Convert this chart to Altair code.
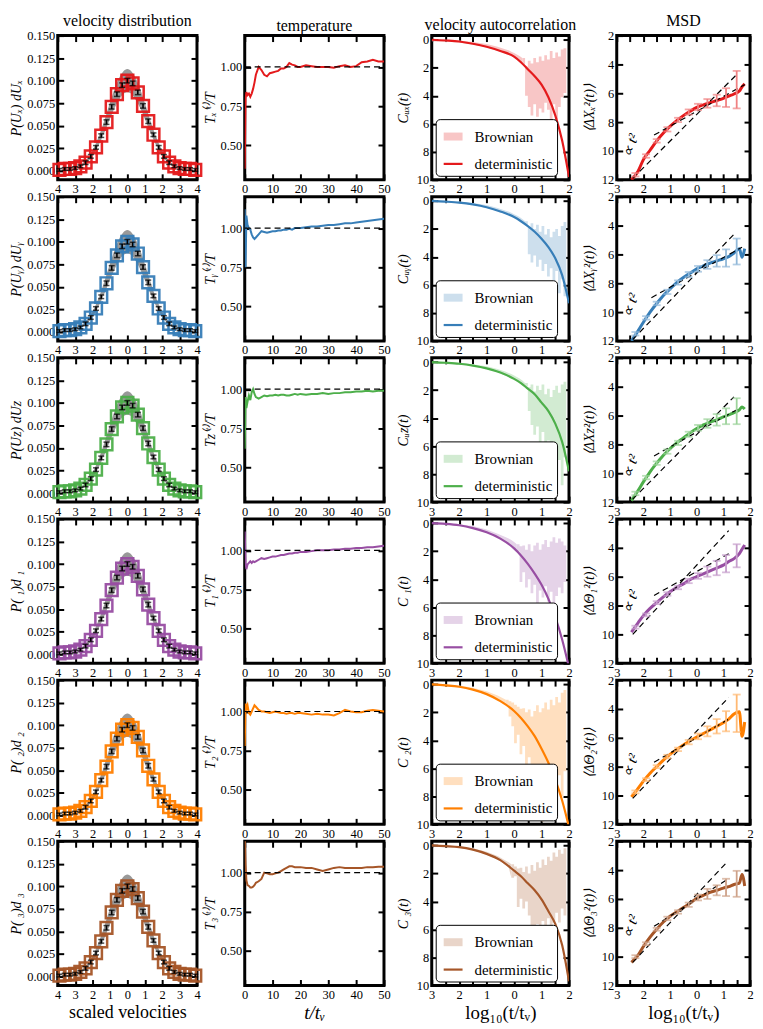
import altair as alt
import pandas as pd

SERIF = "Liberation Serif"
COLORS = ["#e41a1c", "#377eb8", "#4daf4a", "#984ea3", "#ff7f00", "#a65628"]
EM = "\u2003"

# ---------------- column 1 : velocity distribution ----------------
vd_x = [-3.9, -3.6, -3.3, -3.0, -2.7, -2.4, -2.1, -1.8, -1.5, -1.2, -0.9, -0.6, -0.3, 0.0,
        0.3, 0.6, 0.9, 1.2, 1.5, 1.8, 2.1, 2.4, 2.7, 3.0, 3.3, 3.6, 3.9]
vd_p = [0.001, 0.002, 0.002, 0.003, 0.005, 0.009, 0.016, 0.026, 0.039, 0.054, 0.071, 0.085, 0.095, 0.100,
        0.097, 0.087, 0.072, 0.055, 0.040, 0.026, 0.016, 0.009, 0.005, 0.003, 0.002, 0.002, 0.001]
vd_err = [0.0015, 0.0015, 0.0015, 0.0015, 0.0015, 0.002, 0.002, 0.002, 0.002, 0.0025, 0.0025, 0.0025, 0.0025, 0.0025,
          0.0025, 0.0025, 0.0025, 0.0025, 0.002, 0.002, 0.002, 0.002, 0.0015, 0.0015, 0.0015, 0.0015, 0.0015]
band_x = [-4, -3.5, -3, -2.5, -2, -1.5, -1, -0.75, -0.5, -0.25, 0, 0.25, 0.5, 0.75, 1, 1.5, 2, 2.5, 3, 3.5, 4]
band_lo = [0.0000, 0.0004, 0.0020, 0.0065, 0.0165, 0.0345, 0.0575, 0.069, 0.078, 0.085, 0.087,
           0.085, 0.078, 0.069, 0.0575, 0.0345, 0.0165, 0.0065, 0.0020, 0.0004, 0.0000]
band_hi = [0.0003, 0.0012, 0.0035, 0.0095, 0.0225, 0.0455, 0.0755, 0.090, 0.102, 0.110, 0.113,
           0.110, 0.102, 0.090, 0.0755, 0.0455, 0.0225, 0.0095, 0.0035, 0.0012, 0.0003]

# ---------------- column 2 : temperature ----------------
t_temp = [0, 0.3, 0.6, 1, 1.5, 2, 2.5, 3, 3.5, 4, 5, 6, 7, 8, 9, 10, 11, 12, 13, 14, 15, 16, 17, 18, 19, 20,
          22, 24, 26, 28, 30, 32, 34, 36, 38, 40, 42, 44, 46, 48, 50]
temp_1 = [0.35, 0.80, 0.84, 0.82, 0.83, 0.81, 0.83, 0.86, 0.90, 0.95, 1.00, 0.98, 0.95, 0.94, 0.96, 0.965, 0.97,
          0.975, 0.99, 0.99, 1.00, 1.025, 1.015, 1.01, 1.00, 1.00, 1.01, 1.005, 1.00, 1.00, 1.00, 0.995, 1.005,
          1.01, 1.00, 1.005, 1.03, 1.035, 1.045, 1.035, 1.035]
temp_2 = [1.12, 0.75, 1.08, 1.02, 1.00, 0.99, 0.96, 0.94, 0.93, 0.94, 0.96, 0.98, 0.975, 0.97, 0.975, 0.98, 0.98,
          0.985, 0.985, 0.99, 0.99, 0.995, 0.99, 1.00, 1.00, 1.00, 1.005, 1.01, 1.01, 1.015, 1.02, 1.02, 1.025,
          1.03, 1.03, 1.035, 1.04, 1.045, 1.05, 1.055, 1.06]
temp_3 = [0.62, 0.95, 0.88, 0.92, 0.96, 0.93, 0.98, 1.00, 0.97, 0.95, 0.94, 0.95, 0.96, 0.955, 0.96, 0.96, 0.965,
          0.96, 0.965, 0.965, 0.96, 0.96, 0.965, 0.97, 0.965, 0.97, 0.965, 0.97, 0.97, 0.975, 0.97, 0.975, 0.975,
          0.98, 0.98, 0.985, 0.985, 0.99, 0.985, 0.99, 0.99]
temp_4 = [1.12, 0.92, 0.88, 0.91, 0.92, 0.93, 0.92, 0.93, 0.925, 0.93, 0.94, 0.95, 0.945, 0.95, 0.955, 0.96, 0.96,
          0.965, 0.97, 0.97, 0.975, 0.98, 0.98, 0.985, 0.985, 0.99, 0.99, 0.995, 1.0, 1.0, 1.0, 1.005, 1.005,
          1.01, 1.01, 1.015, 1.015, 1.02, 1.02, 1.025, 1.03]
temp_5 = [0.78, 1.05, 1.02, 1.04, 0.99, 0.98, 1.00, 1.02, 1.04, 1.03, 1.01, 1.00, 1.00, 0.995, 0.99, 0.995, 1.00,
          0.995, 0.99, 0.99, 0.985, 0.99, 0.99, 0.985, 0.99, 0.99, 0.985, 0.98, 0.985, 0.98, 0.98, 0.975, 0.99,
          1.01, 1.00, 0.995, 0.995, 1.005, 1.01, 1.005, 1.00]
temp_6 = [1.25, 1.05, 0.95, 0.92, 0.915, 0.905, 0.905, 0.91, 0.92, 0.935, 0.945, 0.96, 1.00, 0.995, 0.99, 0.99,
          0.995, 1.00, 1.01, 1.02, 1.03, 1.04, 1.04, 1.035, 1.035, 1.035, 1.03, 1.03, 1.02, 1.01, 1.02, 1.03,
          1.035, 1.03, 1.03, 1.03, 1.03, 1.035, 1.035, 1.037, 1.037]
ref_t = [0, 50]
ref_T = [1.0, 1.0]

# ---------------- column 3 : velocity autocorrelation ----------------
vac_x = [-3, -2.5, -2, -1.5, -1, -0.5, 0, 0.25, 0.5, 0.75, 1, 1.25, 1.5, 1.75, 2]
vac_det_1 = [0, -0.05, -0.12, -0.28, -0.5, -0.8, -1.2, -1.6, -2.1, -2.6, -3.2, -4.1, -5.4, -7.2, -9.8]
vac_det_2 = [0, -0.05, -0.12, -0.25, -0.45, -0.75, -1.15, -1.45, -1.8, -2.2, -2.7, -3.3, -4.1, -5.3, -7.3]
vac_det_3 = [0, -0.05, -0.12, -0.25, -0.45, -0.75, -1.2, -1.5, -1.9, -2.3, -2.9, -3.5, -4.4, -5.7, -7.8]
vac_det_4 = [0, -0.05, -0.15, -0.35, -0.65, -1.1, -1.8, -2.3, -2.9, -3.6, -4.4, -5.4, -6.7, -8.3, -10.3]
vac_det_5 = [0, -0.07, -0.17, -0.38, -0.7, -1.2, -1.9, -2.4, -3.0, -3.7, -4.6, -5.6, -6.8, -8.3, -10.2]
vac_det_6 = [0, -0.05, -0.12, -0.3, -0.6, -1.05, -1.8, -2.2, -2.7, -3.2, -3.85, -4.7, -5.6, -7.1, -9.7]

bx = [-3.0, -2.5, -2.0, -1.5, -1.0, -0.6, -0.3, -0.2, -0.1, 0.0, 0.1, 0.2, 0.3, 0.4, 0.5, 0.6, 0.7, 0.8,
      0.9, 1.0, 1.1, 1.2, 1.3, 1.4, 1.5, 1.6, 1.7, 1.8, 1.9]
btop_1 = [0.0, 0.0, -0.05, -0.15, -0.3, -0.5, -0.7, -0.75, -0.85, -0.95, -1.05, -1.15, -1.3, -1.9, -1.5, -1.7,
          -1.3, -1.6, -1.2, -1.5, -1.1, -1.4, -0.8, -1.3, -0.9, -1.2, -0.7, -0.6, -0.6]
bbot_1 = [-0.1, -0.12, -0.2, -0.33, -0.55, -0.78, -1.0, -1.08, -1.15, -1.25, -1.4, -1.55, -1.8, -4.0, -4.8, -5.4,
          -4.6, -5.5, -4.9, -5.2, -4.5, -5.0, -5.8, -4.6, -5.7, -4.8, -4.1, -3.8, -3.6]
btop_2 = [0.0, 0.0, -0.05, -0.15, -0.3, -0.5, -0.7, -0.75, -0.85, -0.95, -1.05, -1.15, -1.3, -1.45, -1.9, -1.6,
          -2.0, -1.7, -2.2, -1.8, -2.4, -2.0, -2.6, -2.2, -2.0, -2.5, -1.8, -1.5, -1.5]
bbot_2 = [-0.08, -0.1, -0.17, -0.3, -0.5, -0.72, -0.95, -1.02, -1.1, -1.2, -1.3, -1.4, -1.55, -1.7, -3.8, -4.4,
          -3.9, -4.7, -4.2, -5.0, -4.5, -5.4, -4.8, -5.8, -5.0, -6.6, -5.6, -6.8, -6.0]
btop_3 = [0.0, 0.0, -0.05, -0.15, -0.3, -0.5, -0.7, -0.78, -0.86, -0.96, -1.06, -1.18, -1.32, -1.5, -1.8, -1.6,
          -2.1, -1.7, -2.0, -1.6, -2.3, -1.9, -2.5, -2.0, -1.7, -2.2, -1.6, -1.4, -1.4]
bbot_3 = [-0.08, -0.1, -0.17, -0.3, -0.5, -0.72, -0.98, -1.05, -1.13, -1.23, -1.33, -1.45, -1.6, -1.75, -3.5, -4.5,
          -5.2, -4.6, -5.8, -5.0, -6.4, -5.6, -7.5, -6.2, -9.0, -7.0, -8.8, -6.8, -6.2]
btop_4 = [0.0, -0.02, -0.08, -0.2, -0.45, -0.75, -1.0, -1.1, -1.2, -1.35, -1.5, -1.65, -1.6, -1.9, -1.5, -2.0,
          -1.6, -1.4, -1.9, -1.5, -1.2, -1.7, -1.3, -1.0, -1.4, -1.1, -1.3, -1.6, -1.6]
bbot_4 = [-0.05, -0.1, -0.17, -0.37, -0.67, -1.0, -1.35, -1.48, -1.62, -1.8, -2.0, -4.2, -3.5, -4.6, -4.0, -5.0,
          -4.4, -5.8, -4.8, -5.3, -4.5, -5.6, -4.9, -5.9, -5.2, -4.6, -5.0, -4.2, -4.0]
btop_5 = [0.05, 0.0, -0.08, -0.25, -0.5, -0.8, -1.1, -1.2, -1.3, -1.45, -1.6, -1.75, -1.7, -2.0, -1.8, -2.3,
          -1.9, -1.5, -2.0, -1.7, -1.3, -1.8, -1.1, -1.5, -0.9, -1.3, -0.6, -0.4, -0.4]
bbot_5 = [-0.05, -0.1, -0.2, -0.42, -0.75, -1.1, -1.5, -2.3, -3.0, -4.2, -3.6, -5.0, -4.4, -6.0, -5.2, -7.0,
          -6.2, -8.5, -6.8, -9.8, -7.5, -8.8, -7.0, -9.5, -7.8, -6.5, -8.0, -6.2, -5.5]
btop_6 = [0.05, 0.0, -0.05, -0.2, -0.45, -0.75, -1.1, -1.2, -1.35, -1.5, -1.65, -1.6, -1.9, -1.5, -2.0, -1.4,
          -1.8, -1.2, -1.6, -1.0, -1.4, -0.8, -1.1, -0.5, -0.8, -0.3, -0.6, -0.2, -0.2]
bbot_6 = [-0.05, -0.1, -0.17, -0.35, -0.65, -1.0, -1.4, -1.55, -2.3, -2.2, -4.4, -3.8, -4.5, -4.0, -5.0, -5.8,
          -8.3, -5.6, -6.0, -5.4, -6.0, -5.2, -6.0, -5.5, -4.8, -5.5, -4.5, -5.0, -4.5]
noise_start = [12, 13, 13, 10, 6, 8]   # index in bx where the noisy Brownian part begins

# ---------------- column 4 : MSD ----------------
msd_x = [-2.45, -2.2, -2.0, -1.75, -1.5, -1.25, -1.0, -0.75, -0.5, -0.25, 0, 0.25, 0.5, 0.75, 1.0, 1.2, 1.4,
         1.6, 1.7, 1.8]
msd_1 = [-12.0, -11.4, -10.6, -9.95, -9.3, -8.75, -8.3, -7.9, -7.55, -7.25, -6.98, -6.8, -6.65, -6.5, -6.35,
         -6.2, -6.05, -5.85, -5.55, -5.35]
msd_2 = [-12.0, -11.3, -10.7, -10.0, -9.4, -8.85, -8.4, -7.95, -7.6, -7.3, -7.0, -6.8, -6.6, -6.45, -6.3,
         -6.15, -5.9, -5.6, -6.2, -5.6]
msd_3 = [-11.9, -11.2, -10.6, -9.9, -9.3, -8.75, -8.3, -7.9, -7.55, -7.2, -6.9, -6.65, -6.45, -6.3, -6.1,
         -5.95, -5.8, -5.6, -5.4, -5.55]
msd_4 = [-9.85, -9.2, -8.7, -8.2, -7.8, -7.4, -7.05, -6.75, -6.5, -6.2, -6.0, -5.8, -5.6, -5.4, -5.2, -4.95,
         -4.75, -4.4, -4.1, -3.8]
msd_5 = [-10.1, -9.5, -9.0, -8.45, -8.0, -7.55, -7.15, -6.8, -6.5, -6.2, -5.95, -5.7, -5.45, -5.2, -4.95, -4.7,
         -4.35, -4.2, -5.9, -4.9]
msd_6 = [-10.4, -9.9, -9.3, -8.65, -8.1, -7.6, -7.2, -6.9, -6.6, -6.3, -5.95, -5.75, -5.55, -5.4, -5.25, -5.15,
         -5.0, -4.9, -4.3, -5.1]

steep_x = [[-2.4, 1.5], [-2.4, 1.4], [-2.4, 1.4], [-2.4, 1.2], [-2.4, 1.2], [-2.4, 1.16]]
steep_y = [[-11.9, -4.7], [-11.9, -4.6], [-11.8, -4.7], [-10.0, -2.8], [-10.2, -3.2], [-10.4, -3.4]]
shallow_x = [[-1.6, 1.8], [-1.7, 1.7], [-1.6, 1.6], [-1.6, 1.3], [-1.6, 1.2], [-1.6, 1.1]]
shallow_y = [[-8.9, -5.4], [-9.0, -5.5], [-8.8, -5.5], [-7.3, -4.3], [-7.7, -4.7], [-7.9, -4.7]]

err_x = [-2.3, -1.9, -1.5, -1.1, -0.7, -0.3, 0.05, 0.4, 0.75, 1.1, 1.5]
err_y = [
    [-11.65, -10.35, -9.3, -8.5, -7.85, -7.3, -6.95, -6.7, -6.5, -6.3, -5.75],
    [-11.5, -10.4, -9.4, -8.6, -7.95, -7.4, -7.0, -6.7, -6.45, -6.25, -5.8],
    [-11.4, -10.3, -9.3, -8.5, -7.9, -7.3, -6.85, -6.55, -6.3, -6.05, -5.7],
    [-9.5, -8.65, -7.8, -7.2, -6.75, -6.3, -5.95, -5.65, -5.4, -5.1, -4.55],
    [-9.75, -8.9, -8.0, -7.3, -6.8, -6.3, -5.9, -5.55, -5.2, -4.85, -4.3],
    [-10.0, -9.1, -8.1, -7.35, -6.9, -6.4, -5.9, -5.65, -5.4, -5.2, -4.95],
]
err_e = [
    [0.12, 0.12, 0.12, 0.15, 0.15, 0.18, 0.22, 0.3, 0.4, 0.65, 1.3],
    [0.12, 0.12, 0.12, 0.15, 0.15, 0.18, 0.2, 0.3, 0.4, 0.6, 0.9],
    [0.12, 0.12, 0.12, 0.15, 0.15, 0.18, 0.2, 0.3, 0.4, 0.55, 0.9],
    [0.1, 0.1, 0.1, 0.12, 0.12, 0.15, 0.2, 0.35, 0.5, 0.6, 0.8],
    [0.1, 0.1, 0.1, 0.12, 0.12, 0.15, 0.2, 0.35, 0.5, 0.7, 1.3],
    [0.1, 0.1, 0.1, 0.12, 0.12, 0.15, 0.2, 0.35, 0.35, 0.6, 0.9],
]
ann_x = [-2.5, -2.5, -2.5, -2.5, -2.5, -2.5]
ann_y = [-9.6, -9.5, -9.5, -7.7, -7.9, -7.9]

# ---------------- labels ----------------
col_titles = ["velocity distribution", "temperature", "velocity autocorrelation", "MSD"]
ytitle_vd = ["P(Uₓ) dUₓ", "P(Uᵧ) dUᵧ", "P(Uz) dUz", "P( ₁)d ₁", "P( ₂)d ₂", "P( ₃)d ₃"]
ytitle_T = ["Tₓ⁽ᵗ⁾/T", "Tᵧ⁽ᵗ⁾/T", "Tz⁽ᵗ⁾/T", "T₁⁽ᵗ⁾/T", "T₂⁽ᵗ⁾/T", "T₃⁽ᵗ⁾/T"]
ytitle_C = ["Cᵤₓ(t)", "Cᵤᵧ(t)", "Cᵤz(t)", "C ₁(t)", "C ₂(t)", "C ₃(t)"]
ytitle_M = ["⟨ΔXₓ²(t)⟩", "⟨ΔXᵧ²(t)⟩", "⟨ΔXz²(t)⟩", "⟨ΔΘ₁²(t)⟩", "⟨ΔΘ₂²(t)⟩", "⟨ΔΘ₃²(t)⟩"]
xtitles = ["scaled velocities", "t/tᵥ", "log₁₀(t/tᵥ)", "log₁₀(t/tᵥ)"]
legend_kinds = ["Brownian", "deterministic"]

ticks_vd_x = [-4, -3, -2, -1, 0, 1, 2, 3, 4]
ticks_vd_y = [0.0, 0.025, 0.05, 0.075, 0.1, 0.125, 0.15]
ticks_T_x = [0, 10, 20, 30, 40, 50]
ticks_T_y = [0.5, 0.75, 1.0]
ticks_log_x = [-3, -2.5, -2, -1.5, -1, -0.5, 0, 0.5, 1, 1.5, 2]
ticks_C_y = [0, -2, -4, -6, -8, -10]
ticks_M_y = [-2, -4, -6, -8, -10, -12]

temps = [temp_1, temp_2, temp_3, temp_4, temp_5, temp_6]
dets = [vac_det_1, vac_det_2, vac_det_3, vac_det_4, vac_det_5, vac_det_6]
btops = [btop_1, btop_2, btop_3, btop_4, btop_5, btop_6]
bbots = [bbot_1, bbot_2, bbot_3, bbot_4, bbot_5, bbot_6]
msds = [msd_1, msd_2, msd_3, msd_4, msd_5, msd_6]

W = [140, 140, 138, 134]
H = 145
TS = 6

NEG_EXPR = "datum.value < 0 ? '" + EM + "' + format(abs(datum.value), 'd') : format(datum.value, 'd')"
HALF_EXPR = ("datum.value % 1 != 0 ? '' : (datum.value < 0 ? '" + EM +
             "' + format(abs(datum.value), 'd') : format(datum.value, 'd'))")
ABS_EXPR = "format(abs(datum.value), 'd')"


def light(hexc, a):
    h = hexc.lstrip('#')
    vals = [int(h[i:i + 2], 16) for i in (0, 2, 4)]
    return '#' + ''.join('{:02x}'.format(round(255 - (255 - v) * a)) for v in vals)


def axis(orient, values, labels=True, label_expr=None, fmt=None, title=None,
         tstyle='italic', tsize=14, tpad=4):
    kw = dict(orient=orient, values=values, offset=-TS, tickSize=TS, tickWidth=2,
              tickColor='black', domain=False, grid=False, labels=labels,
              labelFont=SERIF, labelFontSize=12.5, labelColor='black', labelPadding=3,
              labelFlush=False, labelOverlap=False)
    if label_expr is not None:
        kw['labelExpr'] = label_expr
    if fmt is not None:
        kw['format'] = fmt
    if title is not None:
        kw.update(title=title, titleFont=SERIF, titleFontSize=tsize, titleFontStyle=tstyle,
                  titleFontWeight='normal', titleColor='black', titlePadding=tpad)
    else:
        kw['title'] = None
    if orient in ('top', 'right'):
        kw['minExtent'] = 0
        kw['maxExtent'] = 0
    return alt.Axis(**kw)


def sc(dom):
    return alt.Scale(domain=dom, nice=False, zero=False)


def finish(layers, r, c, width):
    ch = alt.layer(*layers).resolve_axis(x='independent', y='independent').properties(width=width, height=H)
    if r == 0:
        ch = ch.properties(title=alt.TitleParams(col_titles[c], font=SERIF, fontSize=16,
                                                 fontWeight='normal', color='black', offset=1))
    return ch


def panel_vd(r):
    col = COLORS[r]
    xs, ys = sc([-4, 4]), sc([-0.01, 0.15])
    xt = xtitles[0] if r == 5 else None
    ax_b = axis('bottom', ticks_vd_x, label_expr=NEG_EXPR, title=xt, tstyle='normal', tsize=18, tpad=3)
    ax_l = axis('left', ticks_vd_y, fmt='.3f', title=ytitle_vd[r], tpad=3)
    ax_t = axis('top', ticks_vd_x, labels=False)
    ax_r = axis('right', ticks_vd_y, labels=False)
    dfb = pd.DataFrame({'x': band_x, 'lo': band_lo, 'hi': band_hi})
    dfp = pd.DataFrame({'x': vd_x, 'p': vd_p, 'e': vd_err})
    dfp['lo'] = dfp['p'] - dfp['e']
    dfp['hi'] = dfp['p'] + dfp['e']
    band = alt.Chart(dfb).mark_area(color='#999999', interpolate='monotone').encode(
        x=alt.X('x:Q', scale=xs, axis=ax_b), y=alt.Y('lo:Q', scale=ys, axis=ax_l), y2='hi:Q')
    sq = alt.Chart(dfp).mark_point(shape='square', filled=False, size=140, strokeWidth=2.5,
                                   color=col, opacity=0.95).encode(
        x=alt.X('x:Q', scale=xs, axis=ax_t), y=alt.Y('p:Q', scale=ys, axis=ax_r))
    rule = alt.Chart(dfp).mark_rule(color='black', strokeWidth=1.6).encode(
        x=alt.X('x:Q', scale=xs, axis=None), y=alt.Y('lo:Q', scale=ys, axis=None), y2='hi:Q')
    cap1 = alt.Chart(dfp).mark_tick(orient='horizontal', color='black', size=6, thickness=1.5).encode(
        x=alt.X('x:Q', scale=xs, axis=None), y=alt.Y('lo:Q', scale=ys, axis=None))
    cap2 = alt.Chart(dfp).mark_tick(orient='horizontal', color='black', size=6, thickness=1.5).encode(
        x=alt.X('x:Q', scale=xs, axis=None), y=alt.Y('hi:Q', scale=ys, axis=None))
    return finish([band, sq, rule, cap1, cap2], r, 0, W[0])


def panel_T(r):
    col = COLORS[r]
    xs, ys = sc([0, 50]), sc([0.28, 1.2])
    xt = xtitles[1] if r == 5 else None
    ax_b = axis('bottom', ticks_T_x, fmt='d', title=xt, tstyle='italic', tsize=19, tpad=3)
    ax_l = axis('left', ticks_T_y, fmt='.2f', title=ytitle_T[r], tpad=3)
    ax_t = axis('top', ticks_T_x, labels=False)
    ax_r = axis('right', ticks_T_y, labels=False)
    dft = pd.DataFrame({'t': t_temp, 'T': temps[r]})
    dfr = pd.DataFrame({'t': ref_t, 'T': ref_T})
    ref = alt.Chart(dfr).mark_line(color='black', strokeWidth=1.2, strokeDash=[6, 4]).encode(
        x=alt.X('t:Q', scale=xs, axis=ax_t), y=alt.Y('T:Q', scale=ys, axis=ax_r))
    line = alt.Chart(dft).mark_line(color=col, strokeWidth=2, clip=True).encode(
        x=alt.X('t:Q', scale=xs, axis=ax_b), y=alt.Y('T:Q', scale=ys, axis=ax_l))
    return finish([line, ref], r, 1, W[1])


def panel_C(r):
    col = COLORS[r]
    lc = light(col, 0.25)
    xs, ys = sc([-3, 2]), sc([-10, 0.3])
    xt = xtitles[2] if r == 5 else None
    ax_b = axis('bottom', ticks_log_x, label_expr=HALF_EXPR, title=xt, tstyle='normal', tsize=19, tpad=3)
    ax_l = axis('left', ticks_C_y, label_expr=ABS_EXPR, title=ytitle_C[r], tpad=6)
    ax_t = axis('top', ticks_log_x, labels=False)
    ax_r = axis('right', ticks_C_y, labels=False)
    dfb = pd.DataFrame({'x': bx, 'top': btops[r], 'bot': bbots[r]})
    k = noise_start[r]
    dfs = dfb.iloc[:k + 1]
    dfn = dfb.iloc[k:]
    dfd = pd.DataFrame({'x': vac_x, 'c': dets[r], 'kind': 'deterministic'})
    leg = alt.Legend(title=None, orient='bottom-left', offset=4, fillColor='white', strokeColor='black',
                     cornerRadius=4, padding=4, labelFont=SERIF, labelFontSize=15, labelColor='black',
                     symbolType='stroke', symbolSize=360, rowPadding=0, labelOffset=8)
    band_s = alt.Chart(dfs).mark_area(color=lc, opacity=1, clip=True).encode(
        x=alt.X('x:Q', scale=xs, axis=ax_b), y=alt.Y('top:Q', scale=ys, axis=ax_l), y2='bot:Q')
    band_n = alt.Chart(dfn).mark_area(color=lc, opacity=1, clip=True, interpolate='step-after').encode(
        x=alt.X('x:Q', scale=xs, axis=None), y=alt.Y('top:Q', scale=ys, axis=None), y2='bot:Q')
    line = alt.Chart(dfd).mark_line(clip=True, interpolate='monotone').encode(
        x=alt.X('x:Q', scale=xs, axis=ax_t), y=alt.Y('c:Q', scale=ys, axis=ax_r),
        color=alt.Color('kind:N', scale=alt.Scale(domain=legend_kinds, range=[lc, col]), legend=leg),
        strokeWidth=alt.StrokeWidth('kind:N', scale=alt.Scale(type='ordinal', domain=legend_kinds, range=[8, 2.2]),
                                    legend=leg))
    return finish([band_s, band_n, line], r, 2, W[2])


def panel_M(r):
    col = COLORS[r]
    ec = light(col, 0.55)
    xs, ys = sc([-3, 2]), sc([-12, -2])
    xt = xtitles[3] if r == 5 else None
    ax_b = axis('bottom', ticks_log_x, label_expr=HALF_EXPR, title=xt, tstyle='normal', tsize=19, tpad=3)
    ax_l = axis('left', ticks_M_y, label_expr=ABS_EXPR, title=ytitle_M[r], tpad=5)
    ax_t = axis('top', ticks_log_x, labels=False)
    ax_r = axis('right', ticks_M_y, labels=False)
    dfm = pd.DataFrame({'x': msd_x, 'm': msds[r]})
    dfd = pd.DataFrame({'x': steep_x[r] + shallow_x[r], 'm': steep_y[r] + shallow_y[r],
                        'seg': ['steep', 'steep', 'shallow', 'shallow']})
    dfe = pd.DataFrame({'x': err_x, 'y': err_y[r], 'e': err_e[r]})
    dfe['lo'] = dfe['y'] - dfe['e']
    dfe['hi'] = dfe['y'] + dfe['e']
    dfa = pd.DataFrame({'x': [ann_x[r]], 'y': [ann_y[r]]})
    erule = alt.Chart(dfe).mark_rule(color=ec, strokeWidth=1.8).encode(
        x=alt.X('x:Q', scale=xs, axis=None), y=alt.Y('lo:Q', scale=ys, axis=None), y2='hi:Q')
    ecap1 = alt.Chart(dfe).mark_tick(orient='horizontal', color=ec, size=8, thickness=1.8).encode(
        x=alt.X('x:Q', scale=xs, axis=None), y=alt.Y('lo:Q', scale=ys, axis=None))
    ecap2 = alt.Chart(dfe).mark_tick(orient='horizontal', color=ec, size=8, thickness=1.8).encode(
        x=alt.X('x:Q', scale=xs, axis=None), y=alt.Y('hi:Q', scale=ys, axis=None))
    line = alt.Chart(dfm).mark_line(color=col, strokeWidth=3, clip=True, interpolate='monotone').encode(
        x=alt.X('x:Q', scale=xs, axis=ax_b), y=alt.Y('m:Q', scale=ys, axis=ax_l))
    dash = alt.Chart(dfd).mark_line(color='black', strokeWidth=1.2, strokeDash=[6, 4], clip=True).encode(
        x=alt.X('x:Q', scale=xs, axis=ax_t), y=alt.Y('m:Q', scale=ys, axis=ax_r), detail='seg:N')
    ann = alt.Chart(dfa).mark_text(text='∝ t²', angle=290, font=SERIF, fontStyle='italic', fontSize=15,
                                   color='black').encode(
        x=alt.X('x:Q', scale=xs, axis=None), y=alt.Y('y:Q', scale=ys, axis=None))
    return finish([line, dash, erule, ecap1, ecap2, ann], r, 3, W[3])


panels = []
for r in range(6):
    panels += [panel_vd(r), panel_T(r), panel_C(r), panel_M(r)]

chart = alt.concat(*panels, columns=4, spacing={"row": 17, "column": 48}, bounds='flush', align='each') \
    .resolve_scale(x='independent', y='independent', color='independent', strokeWidth='independent') \
    .resolve_legend(color='independent', strokeWidth='independent') \
    .properties(padding=0, background='white') \
    .configure_view(stroke='black', strokeWidth=3)

chart.save("out.html", embed_options={"renderer": "svg", "actions": False})
